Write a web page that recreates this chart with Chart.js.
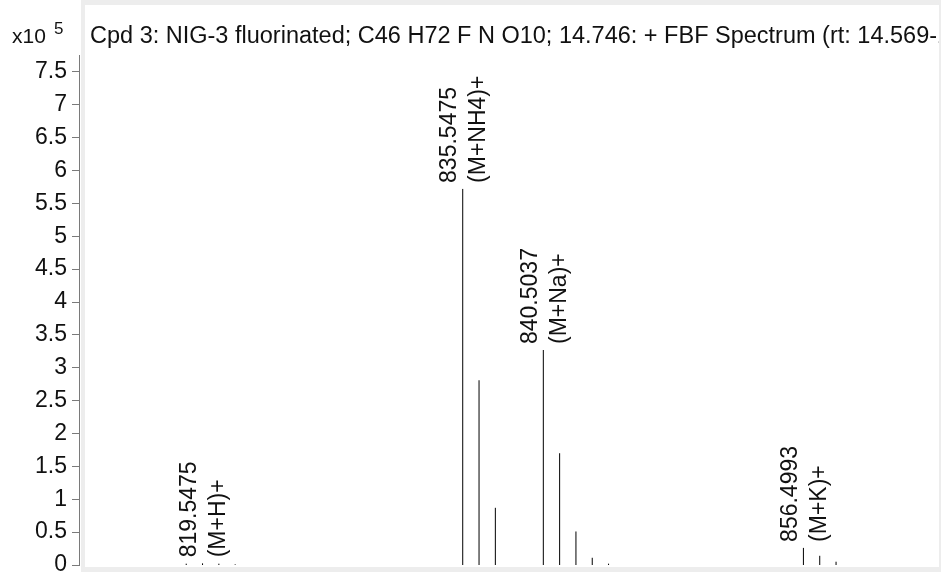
<!DOCTYPE html>
<html>
<head>
<meta charset="utf-8">
<script src="https://cdn.jsdelivr.net/npm/chart.js@4/dist/chart.umd.min.js"></script>
<style>
  html, body { margin: 0; padding: 0; background: #fff; }
  #wrap { width: 941px; height: 572px; position: relative; }
</style>
</head>
<body>
<div id="wrap"><canvas id="spectrum" width="941" height="572"></canvas></div>
<script>
// Peak list (m/z, abundance in units of 10^5 counts)
const peakMz = [818.544, 819.5475, 820.551, 821.554,
                835.5475, 836.551, 837.554,
                840.5037, 841.507, 842.510, 843.513, 844.516,
                856.4993, 857.503, 858.506];
const peakHeight = [0.02, 0.025, 0.02, 0.01,
                    5.72, 2.81, 0.87,
                    3.27, 1.70, 0.51, 0.11, 0.02,
                    0.26, 0.14, 0.05];

// Annotated peaks
const labelMz = [819.5475, 835.5475, 840.5037, 856.4993];
const labelText = ['819.5475', '835.5475', '840.5037', '856.4993'];
const labelAdduct = ['(M+H)+', '(M+NH4)+', '(M+Na)+', '(M+K)+'];

const yTicks = [0, 0.5, 1, 1.5, 2, 2.5, 3, 3.5, 4, 4.5, 5, 5.5, 6, 6.5, 7, 7.5];
const yTickLabels = ['0', '0.5', '1', '1.5', '2', '2.5', '3', '3.5', '4', '4.5', '5', '5.5', '6', '6.5', '7', '7.5'];

const titleText = 'Cpd 3: NIG-3 fluorinated; C46 H72 F N O10; 14.746: + FBF Spectrum (rt: 14.569-14.923 min)';

const FONT = '"Liberation Sans", Arial, sans-serif';

// sticks: baseline -> top -> gap
const stickData = [];
peakMz.forEach((m, i) => {
    stickData.push({ x: m, y: 0 });
    stickData.push({ x: m, y: peakHeight[i] });
    stickData.push({ x: m, y: null });
});

const framePlugin = {
    id: 'frame',
    beforeDraw(chart) {
        const ctx = chart.ctx;
        ctx.save();
        ctx.fillStyle = '#ededed';
        ctx.fillRect(81, 0, 860, 572);
        ctx.fillStyle = '#ffffff';
        ctx.fillRect(85, 5, 854, 562);
        ctx.restore();
    }
};

const annotatePlugin = {
    id: 'annotate',
    afterDatasetsDraw(chart) {
        const ctx = chart.ctx;
        const xs = chart.scales.x;
        const ys = chart.scales.y;

        // title, clipped to the frame
        ctx.save();
        ctx.beginPath();
        ctx.rect(85, 5, 854, 562);
        ctx.clip();
        ctx.fillStyle = '#111';
        ctx.font = '23.5px ' + FONT;
        ctx.textAlign = 'left';
        ctx.textBaseline = 'alphabetic';
        ctx.fillText(titleText, 90, 43);
        ctx.restore();

        // exponent
        ctx.save();
        ctx.fillStyle = '#111';
        ctx.textBaseline = 'alphabetic';
        ctx.font = '21px ' + FONT;
        ctx.fillText('x10', 12, 43);
        ctx.font = '17px ' + FONT;
        ctx.fillText('5', 54, 34);
        ctx.restore();

        // peak labels, rotated
        labelMz.forEach((m, i) => {
            const idx = peakMz.indexOf(m);
            const px = xs.getPixelForValue(m);
            const py = ys.getPixelForValue(peakHeight[idx]);
            ctx.save();
            ctx.translate(px, py - 6);
            ctx.rotate(-Math.PI / 2);
            ctx.fillStyle = '#111';
            ctx.font = '23px ' + FONT;
            ctx.textAlign = 'left';
            ctx.textBaseline = 'middle';
            ctx.fillText(labelText[i], 0, -13);
            ctx.fillText(labelAdduct[i], 0, 16);
            ctx.restore();
        });
    }
};

new Chart(document.getElementById('spectrum').getContext('2d'), {
    type: 'scatter',
    data: {
        datasets: [{
            data: stickData,
            showLine: true,
            spanGaps: false,
            borderColor: '#000',
            borderWidth: 1,
            pointRadius: 0,
            pointHoverRadius: 0
        }]
    },
    options: {
        responsive: false,
        animation: false,
        devicePixelRatio: 1,
        events: [],
        layout: { padding: { top: 55, bottom: 7, left: 0, right: 0 } },
        plugins: {
            legend: { display: false },
            tooltip: { enabled: false }
        },
        scales: {
            x: {
                type: 'linear',
                min: 811.95,
                max: 864.96,
                display: false
            },
            y: {
                min: 0,
                max: 7.757,
                afterFit(scale) {
                    scale.width = 79;
                    scale.paddingTop = 0;
                    scale.paddingBottom = 0;
                },
                afterBuildTicks(scale) {
                    scale.ticks = yTicks.map(v => ({ value: v }));
                },
                border: { display: true, color: '#7a7a7a', width: 1 },
                grid: {
                    drawOnChartArea: false,
                    drawTicks: true,
                    tickLength: 7,
                    color: '#7a7a7a'
                },
                ticks: {
                    padding: 5,
                    color: '#111',
                    font: { family: FONT, size: 23 },
                    callback: (v, i) => yTickLabels[yTicks.indexOf(v)]
                }
            }
        }
    },
    plugins: [framePlugin, annotatePlugin]
});
</script>
</body>
</html>
